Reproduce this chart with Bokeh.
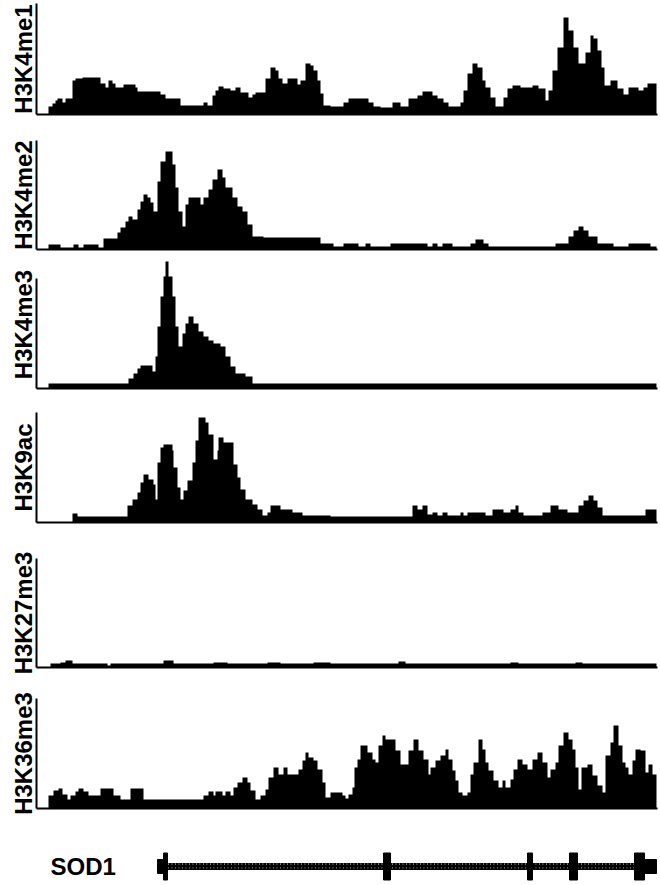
from bokeh.plotting import figure
from bokeh.layouts import column
from bokeh.models import Range1d, FixedTicker, ColumnDataSource
from bokeh.embed import file_html
from bokeh.resources import INLINE
from bokeh.core.properties import value

# ---------------- data (positions along the locus, signal heights) ----------------
marks = ["H3K4me1", "H3K4me2", "H3K4me3", "H3K9ac", "H3K27me3", "H3K36me3"]

k4me1_pos = [48, 52, 55, 57, 62, 65, 72, 75, 82, 100, 105, 108, 112, 115, 123, 135, 137, 160, 165, 180,
             203, 207, 212, 215, 218, 223, 230, 235, 240, 248, 252, 255, 265, 270, 275, 278, 282, 287, 297,
             300, 305, 310, 313, 317, 320, 323, 330, 343, 348, 368, 373, 380, 392, 400, 408, 417, 422, 432,
             437, 443, 448, 460, 463, 467, 472, 477, 482, 485, 490, 495, 503, 507, 512, 520, 532, 538, 545,
             548, 552, 557, 563, 568, 573, 578, 585, 590, 593, 597, 601, 604, 610, 617, 623, 628, 638, 643,
             647, 656]
k4me1_sig = [8, 11, 14, 16, 12, 16, 34, 36, 37, 31, 27, 34, 31, 27, 30, 27, 23, 20, 16, 9,
             12, 9, 19, 24, 28, 26, 24, 27, 22, 17, 20, 22, 36, 47, 44, 36, 31, 36, 30,
             34, 51, 49, 44, 34, 21, 9, 8, 12, 16, 12, 8, 7, 12, 8, 16, 19, 23, 19,
             16, 12, 8, 12, 24, 41, 51, 47, 34, 27, 17, 8, 17, 26, 29, 27, 29, 26, 14,
             24, 44, 67, 97, 84, 67, 51, 62, 79, 76, 64, 47, 29, 34, 26, 20, 27, 24, 27,
             31, 31]

k4me2_pos = [48, 60, 73, 78, 83, 98, 103, 117, 120, 125, 128, 132, 137, 140, 143, 147, 150, 153, 157, 160,
             165, 172, 175, 178, 182, 185, 188, 200, 203, 208, 212, 217, 222, 225, 232, 237, 242, 247, 252,
             263, 320, 333, 343, 358, 365, 370, 390, 427, 432, 437, 442, 452, 470, 475, 483, 488, 555, 568,
             573, 578, 583, 588, 597, 613, 628, 650, 656]
k4me2_sig = [5, 2, 5, 2, 5, 2, 11, 17, 22, 28, 33, 30, 40, 48, 55, 52, 47, 38, 68, 88,
             98, 85, 62, 38, 23, 45, 52, 45, 52, 60, 70, 80, 72, 62, 52, 43, 38, 25, 13,
             12, 6, 3, 6, 3, 6, 3, 6, 3, 6, 3, 6, 3, 6, 10, 6, 3, 6, 13,
             19, 23, 19, 13, 6, 3, 6, 3, 3]

k4me3_pos = [48, 128, 133, 137, 140, 152, 155, 157, 160, 163, 165, 168, 172, 175, 178, 182, 185, 188, 193,
             198, 203, 208, 213, 220, 225, 230, 235, 245, 252, 656]
k4me3_sig = [5, 10, 15, 20, 23, 17, 32, 62, 92, 112, 127, 112, 92, 62, 42, 55, 65, 72, 65,
             57, 52, 48, 45, 42, 32, 22, 15, 12, 5, 5]

k9ac_pos = [72, 77, 127, 132, 137, 140, 143, 148, 153, 155, 157, 160, 163, 172, 173, 177, 180, 183, 187,
            192, 195, 198, 205, 208, 213, 217, 218, 223, 233, 237, 240, 245, 252, 257, 262, 267, 270, 280,
            292, 302, 330, 412, 417, 422, 427, 432, 437, 442, 447, 460, 463, 467, 485, 492, 503, 510, 515,
            518, 523, 542, 550, 558, 567, 578, 583, 588, 593, 597, 602, 645, 656]
k9ac_sig = [9, 6, 17, 23, 30, 40, 48, 43, 38, 23, 60, 75, 78, 72, 55, 35, 23, 32, 42,
            60, 82, 105, 100, 88, 63, 72, 85, 80, 58, 45, 33, 23, 18, 13, 7, 10, 17, 13,
            10, 7, 6, 17, 13, 17, 8, 10, 7, 10, 7, 10, 7, 10, 7, 13, 10, 13, 17,
            10, 7, 10, 17, 13, 10, 17, 22, 27, 22, 15, 7, 13, 13]

k27me3_pos = [50, 60, 65, 72, 107, 110, 163, 173, 213, 227, 267, 280, 313, 330, 398, 405, 510, 518, 575,
              582, 656]
k27me3_sig = [4, 5, 7, 4, 2, 4, 7, 4, 5, 4, 5, 4, 5, 4, 6, 4, 5, 4, 5,
              4, 4]

k36me3_pos = [48, 53, 58, 62, 67, 70, 75, 78, 83, 88, 100, 113, 120, 130, 143, 203, 208, 213, 215, 222,
              225, 230, 233, 237, 242, 247, 250, 255, 260, 265, 268, 273, 278, 283, 287, 298, 302, 305, 308,
              313, 317, 322, 325, 330, 342, 345, 348, 352, 354, 357, 360, 367, 372, 375, 378, 382, 385, 395,
              400, 408, 413, 418, 423, 428, 430, 435, 440, 445, 448, 452, 455, 458, 462, 467, 470, 473, 478,
              482, 485, 488, 493, 498, 502, 505, 510, 513, 517, 522, 527, 532, 537, 542, 547, 550, 555, 558,
              563, 568, 572, 575, 578, 581, 587, 592, 597, 602, 605, 610, 613, 618, 622, 625, 628, 632, 635,
              640, 645, 648, 652, 656]
k36me3_sig = [13, 18, 20, 14, 9, 13, 17, 20, 17, 13, 20, 13, 9, 20, 9, 13, 17, 13, 17, 13,
              17, 13, 21, 26, 31, 26, 18, 9, 13, 19, 31, 41, 34, 41, 34, 39, 48, 56, 51,
              48, 39, 26, 11, 16, 13, 10, 14, 21, 41, 49, 63, 56, 49, 46, 63, 73, 69, 58,
              44, 58, 69, 58, 49, 34, 41, 48, 53, 59, 49, 38, 28, 16, 13, 16, 34, 46, 69,
              59, 46, 38, 28, 21, 28, 21, 29, 39, 49, 44, 39, 49, 56, 46, 31, 39, 46, 63,
              76, 69, 59, 41, 19, 41, 44, 33, 23, 16, 53, 66, 83, 63, 46, 41, 34, 48, 59,
              58, 36, 44, 34, 34]

tracks = [(k4me1_pos, k4me1_sig), (k4me2_pos, k4me2_sig), (k4me3_pos, k4me3_sig),
          (k9ac_pos, k9ac_sig), (k27me3_pos, k27me3_sig), (k36me3_pos, k36me3_sig)]
axis_height = [111, 109, 110, 110, 109, 110]   # signal-axis extent per track

gene_name = "SOD1"
utr_start = [157, 644]
utr_end = [163, 656]
exon_start = [163, 383, 527, 569, 634]
exon_end = [167, 390, 532, 577, 644]
intron_start = [163]
intron_end = [634]

# ---------------- layout (pixels) ----------------
W = 660
LEFT, RIGHT = 36, 3
X0, X1 = 36, 657
# (figure height, border top, border bottom)
track_layout = [(130, 3, 16), (129, 10, 10), (141, 1, 12), (140, 12, 18), (140, 18, 13), (145, 18, 17)]
FONT = "Liberation Sans"

figs = []
for i, (name, (pos, sig)) in enumerate(zip(marks, tracks)):
    h, bt, bb = track_layout[i]
    frame = h - bt - bb
    p = figure(width=W, height=h, output_backend="svg", toolbar_location=None,
               x_range=Range1d(X0, X1), y_range=Range1d(0, frame),
               min_border_left=LEFT, min_border_right=RIGHT,
               min_border_top=bt, min_border_bottom=bb)
    p.outline_line_color = None
    p.xgrid.visible = False
    p.ygrid.visible = False
    src = ColumnDataSource(dict(x=pos, y=sig))
    p.varea_step(x="x", y1=0, y2="y", step_mode="after", source=src,
                 fill_color="black")
    for ax in (p.xaxis[0], p.yaxis[0]):
        ax.ticker = FixedTicker(ticks=[])
        ax.minor_tick_out = 0
        ax.minor_tick_in = 0
        ax.major_tick_out = 0
        ax.major_tick_in = 0
        ax.major_label_text_font_size = "0px"
        ax.major_label_standoff = 0
        ax.axis_line_width = 2
        ax.axis_line_color = "black"
    p.yaxis[0].bounds = (0, axis_height[i])
    p.yaxis[0].axis_label = name
    p.yaxis[0].axis_label_text_font = FONT
    p.yaxis[0].axis_label_text_font_style = "bold"
    p.yaxis[0].axis_label_text_font_size = "24px"
    p.yaxis[0].axis_label_text_color = "black"
    p.yaxis[0].axis_label_standoff = 0
    figs.append(p)

# gene model
gh = 57
g = figure(width=W, height=gh, output_backend="svg", toolbar_location=None,
           x_range=Range1d(X0, X1), y_range=Range1d(-16, 41),
           x_axis_location=None, y_axis_location=None,
           min_border_left=LEFT, min_border_right=RIGHT, min_border_top=0, min_border_bottom=0)
g.outline_line_color = None
g.xgrid.visible = False
g.ygrid.visible = False
g.quad(left=intron_start, right=intron_end, bottom=-3.5, top=3.5, fill_color=None, line_color=None,
       hatch_pattern="right_diagonal_line", hatch_color="black", hatch_scale=3.5, hatch_weight=2)
g.segment(x0=intron_start, x1=intron_end, y0=[0], y1=[0], line_color="black", line_width=2)
g.quad(left=utr_start, right=utr_end, bottom=-7, top=7, fill_color="black", line_color="black")
g.quad(left=exon_start, right=exon_end, bottom=-13.5, top=13.5, fill_color="black", line_color="black")
g.text(x=[50], y=[0], text=[gene_name], text_font=value(FONT), text_font_style="bold",
       text_font_size="24px", text_baseline="middle", text_align="left", text_color="black")
figs.append(g)

layout = column(*figs, spacing=0)
open("out.html", "w").write(file_html(layout, INLINE))
